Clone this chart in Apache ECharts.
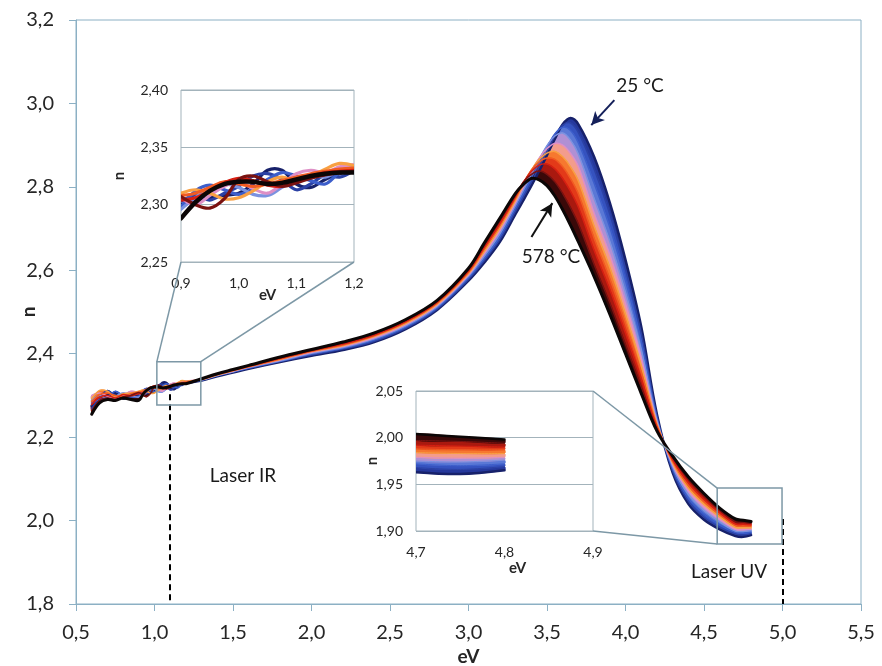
<!DOCTYPE html>
<html><head><meta charset="utf-8">
<script src="https://cdn.jsdelivr.net/npm/echarts@6/dist/echarts.min.js"></script>
<style>html,body{margin:0;padding:0;background:#fff}#c{width:882px;height:666px}</style>
</head><body><div id="c"></div>
<script>
// photon energy (eV)
const eV = [0.6,0.65,0.7,0.75,0.8,0.85,0.9,0.925,0.95,0.975,1.0,1.025,1.05,1.075,1.1,1.125,1.15,1.175,1.2,
  1.3,1.4,1.5,1.6,1.8,2.0,2.2,2.4,2.6,2.8,3.0,3.1,3.2,
  3.3,3.35,3.4,3.45,3.5,3.55,3.6,3.65,3.7,
  3.8,3.9,4.0,4.1,4.2,4.3,4.4,4.5,4.6,4.7,4.75,4.8];
// refractive index n, from 25 °C (navy) to 578 °C (black)
const n25C = [2.275,2.285,2.300,2.305,2.292,2.298,2.300,2.304,2.306,2.308,2.310,2.318,2.330,2.330,2.318,2.315,2.322,2.327,2.329,
  2.336,2.346,2.355,2.364,2.380,2.395,2.409,2.428,2.459,2.505,2.575,2.618,2.668,
  2.735,2.768,2.802,2.838,2.876,2.915,2.950,2.965,2.950,
  2.872,2.762,2.625,2.465,2.255,2.115,2.040,2.002,1.979,1.963,1.961,1.965];
const nBlue1 = [2.268,2.295,2.312,2.300,2.296,2.302,2.303,2.308,2.304,2.310,2.316,2.325,2.327,2.322,2.313,2.318,2.326,2.324,2.330,
  2.336,2.347,2.356,2.365,2.381,2.397,2.411,2.430,2.461,2.507,2.578,2.623,2.674,
  2.742,2.776,2.811,2.848,2.886,2.922,2.948,2.953,2.930,
  2.843,2.735,2.602,2.449,2.251,2.119,2.047,2.008,1.984,1.968,1.966,1.969];
const nBlue2 = [2.282,2.290,2.296,2.310,2.300,2.296,2.298,2.312,2.317,2.313,2.309,2.314,2.322,2.328,2.325,2.321,2.318,2.328,2.332,
  2.337,2.347,2.357,2.366,2.382,2.399,2.413,2.433,2.464,2.510,2.582,2.628,2.681,
  2.750,2.785,2.821,2.858,2.895,2.927,2.943,2.935,2.905,
  2.809,2.703,2.575,2.430,2.246,2.124,2.054,2.016,1.990,1.972,1.970,1.972];
const nLightBlue = [2.290,2.300,2.292,2.298,2.306,2.300,2.296,2.306,2.314,2.318,2.315,2.309,2.308,2.315,2.322,2.326,2.324,2.330,2.333,
  2.337,2.348,2.357,2.367,2.383,2.401,2.415,2.436,2.467,2.513,2.586,2.634,2.688,
  2.757,2.793,2.830,2.866,2.899,2.922,2.929,2.912,2.878,
  2.772,2.669,2.546,2.409,2.241,2.129,2.063,2.024,1.997,1.975,1.974,1.976];
const nPink = [2.300,2.306,2.298,2.292,2.300,2.310,2.306,2.300,2.308,2.316,2.320,2.314,2.310,2.318,2.327,2.330,2.328,2.333,2.335,
  2.338,2.349,2.358,2.368,2.385,2.403,2.417,2.438,2.470,2.516,2.589,2.640,2.695,
  2.763,2.800,2.837,2.869,2.892,2.904,2.900,2.880,2.848,
  2.737,2.637,2.519,2.390,2.236,2.134,2.071,2.032,2.003,1.979,1.978,1.979];
const nOrange = [2.292,2.312,2.310,2.296,2.304,2.306,2.310,2.313,2.310,2.305,2.306,2.312,2.320,2.324,2.320,2.325,2.331,2.336,2.334,
  2.338,2.349,2.359,2.369,2.386,2.405,2.419,2.441,2.472,2.518,2.592,2.645,2.701,
  2.768,2.805,2.840,2.866,2.881,2.885,2.872,2.848,2.814,
  2.706,2.607,2.494,2.372,2.232,2.138,2.078,2.039,2.009,1.984,1.983,1.983];
const nOrangeRed = [2.285,2.302,2.305,2.300,2.298,2.304,2.308,2.310,2.315,2.320,2.318,2.316,2.318,2.321,2.324,2.327,2.329,2.331,2.332,
  2.339,2.350,2.360,2.369,2.387,2.406,2.421,2.443,2.475,2.521,2.595,2.650,2.707,
  2.773,2.809,2.840,2.860,2.869,2.866,2.848,2.820,2.783,
  2.677,2.580,2.472,2.356,2.228,2.142,2.084,2.045,2.014,1.988,1.987,1.987];
const nRed = [2.278,2.296,2.300,2.294,2.302,2.299,2.304,2.306,2.312,2.319,2.323,2.321,2.317,2.316,2.321,2.325,2.328,2.329,2.330,
  2.339,2.351,2.361,2.370,2.389,2.407,2.423,2.445,2.477,2.523,2.598,2.655,2.712,
  2.777,2.811,2.837,2.852,2.855,2.843,2.820,2.789,2.751,
  2.648,2.554,2.449,2.340,2.224,2.146,2.091,2.051,2.019,1.992,1.991,1.990];
const nDarkRed = [2.262,2.288,2.294,2.290,2.296,2.300,2.307,2.300,2.297,2.305,2.322,2.325,2.320,2.316,2.319,2.323,2.326,2.328,2.329,
  2.340,2.351,2.361,2.371,2.390,2.409,2.426,2.448,2.480,2.526,2.602,2.660,2.719,
  2.781,2.812,2.830,2.838,2.830,2.812,2.784,2.750,2.711,
  2.614,2.522,2.422,2.321,2.219,2.151,2.099,2.059,2.025,1.997,1.996,1.994];
const n578C = [2.255,2.282,2.290,2.288,2.294,2.290,2.288,2.302,2.312,2.318,2.320,2.320,2.318,2.319,2.322,2.325,2.327,2.328,2.328,
  2.340,2.352,2.362,2.372,2.392,2.410,2.428,2.450,2.482,2.528,2.605,2.665,2.725,
  2.785,2.806,2.820,2.817,2.803,2.778,2.745,2.708,2.668,
  2.585,2.495,2.400,2.305,2.215,2.155,2.105,2.065,2.030,2.004,2.001,1.998];

const curves = [n25C, nBlue1, nBlue2, nLightBlue, nPink, nOrange, nOrangeRed, nRed, nDarkRed, n578C];
const lineColors = ['#17216a','#2b41a4','#3c5ecb','#7b92e0','#de8fc6','#f8a043','#f15b22','#d61f12','#7a1210','#0b0606'];
const bandColors = ['#25389c','#3552bf','#5a78d6','#b090d4','#f39c8c','#f6782f','#e33a19','#a9190f','#3a0909'];

// annotation boxes (data coords) and labels
const irBox = [1.015, 1.295, 2.277, 2.381];
const uvBox = [4.584, 4.997, 1.944, 2.078];
const laserLines = [[1.1, 2.303], [5.0, 2.004]];
const arrow25 = [[3.929, 3.008], [3.782, 2.948]];
const arrow578 = [[3.401, 2.680], [3.534, 2.761]];

const FONT = 'Lato, "Open Sans", sans-serif';
const TXT = '#262626';
const AX = '#8cb0c4';
const IN = '#a3b3bb';
const SMOOTH = 0.35;
const fmt = d => v => v.toFixed(d).replace('.', ',');

function idxIn(a, b) { const r = []; eV.forEach((x, i) => { if (x >= a - 1e-9 && x <= b + 1e-9) r.push(i); }); return r; }
const allIdx = eV.map((_, i) => i);
const in1Idx = idxIn(0.9, 1.2);
const in2Idx = idxIn(4.7, 4.8);

function bandSeries(gi, idx) {
  return {
    type: 'custom', xAxisIndex: gi, yAxisIndex: gi, clip: true, silent: true, z: 2, animation: false,
    data: bandColors.map((_, b) => [eV[idx[0]], curves[b][idx[0]], b]),
    renderItem: function (params, api) {
      const b = api.value(2);
      const top = idx.map(i => api.coord([eV[i], curves[b][i]]));
      const bot = idx.map(i => api.coord([eV[i], curves[b + 1][i]])).reverse();
      return { type: 'polygon', shape: { points: top.concat(bot), smooth: SMOOTH },
        style: { fill: bandColors[b], stroke: bandColors[b], lineWidth: 0.6 } };
    }
  };
}
function lineSeries(gi, idx, widthFn) {
  return {
    type: 'custom', xAxisIndex: gi, yAxisIndex: gi, clip: true, silent: true, z: 3, animation: false,
    data: curves.map((c, k) => [eV[idx[0]], c[idx[0]], k]),
    renderItem: function (params, api) {
      const k = api.value(2);
      const pts = idx.map(i => api.coord([eV[i], curves[k][i]]));
      return { type: 'polyline', shape: { points: pts, smooth: SMOOTH },
        style: { stroke: lineColors[k], lineWidth: widthFn(k), fill: null, lineJoin: 'round', lineCap: 'round' } };
    }
  };
}

const series = [];
series.push(bandSeries(0, allIdx));
series.push(lineSeries(0, allIdx, k => (k === 0 ? 2.5 : k === 9 ? 3 : 1.5)));
series.push(lineSeries(1, in1Idx, k => (k === 9 ? 4.5 : 3.2)));
series.push(bandSeries(2, in2Idx));
series.push(lineSeries(2, in2Idx, k => (k === 0 || k === 9 ? 2.5 : 1)));
// annotations on the main grid
series.push({
  type: 'line', xAxisIndex: 0, yAxisIndex: 0, data: [], silent: true, animation: false, z: 5,
  markLine: {
    silent: true, animation: false, label: { show: false }, symbol: ['none', 'none'],
    data: [
      [{ coord: laserLines[0], lineStyle: { type: [6, 4], color: '#000', width: 2 } }, { coord: [laserLines[0][0], 1.8] }],
      [{ coord: laserLines[1], lineStyle: { type: [6, 4], color: '#000', width: 2 } }, { coord: [laserLines[1][0], 1.8] }],
      [{ coord: arrow25[0], symbol: 'none', lineStyle: { type: 'solid', color: '#15205a', width: 2 } }, { coord: arrow25[1], symbol: 'arrow', symbolSize: [10, 13] }],
      [{ coord: arrow578[0], symbol: 'none', lineStyle: { type: 'solid', color: '#111', width: 2 } }, { coord: arrow578[1], symbol: 'arrow', symbolSize: [10, 13] }]
    ]
  }
});

function insetX(gi, min, max, gap) {
  return { gridIndex: gi, type: 'value', min, max, interval: 0.1,
    axisLine: { show: false }, axisTick: { show: false }, splitLine: { show: false },
    axisLabel: { formatter: fmt(1), fontSize: 14, color: TXT, margin: 14, fontFamily: FONT },
    name: 'eV', nameLocation: 'middle', nameGap: gap, nameMoveOverlap: false,
    nameTextStyle: { fontSize: 15, fontWeight: 'bold', color: TXT, fontFamily: FONT } };
}
function insetY(gi, min, max, gap) {
  return { gridIndex: gi, type: 'value', min, max, interval: 0.05,
    axisLine: { show: false }, axisTick: { show: false },
    splitLine: { show: true, lineStyle: { color: IN, width: 1 } },
    axisLabel: { formatter: fmt(2), fontSize: 14, color: TXT, margin: 13, fontFamily: FONT },
    name: 'n', nameLocation: 'middle', nameGap: gap, nameMoveOverlap: false,
    nameTextStyle: { fontSize: 15, fontWeight: 'bold', color: TXT, fontFamily: FONT } };
}

const option = {
  backgroundColor: '#fff',
  animation: false,
  grid: [
    { left: 76, top: 20, width: 785, height: 584, show: true, borderColor: AX, borderWidth: 1, containLabel: false, outerBoundsMode: 'none' },
    { left: 181, top: 90, width: 173, height: 172, show: true, borderColor: IN, borderWidth: 1, backgroundColor: '#fff', containLabel: false, outerBoundsMode: 'none' },
    { left: 416, top: 391, width: 177, height: 140, show: true, borderColor: IN, borderWidth: 1, backgroundColor: '#fff', containLabel: false, outerBoundsMode: 'none' }
  ],
  xAxis: [
    { gridIndex: 0, type: 'value', min: 0.5, max: 5.5, interval: 0.5,
      axisLine: { show: true, lineStyle: { color: AX, width: 1 } },
      axisTick: { show: true, length: 7, lineStyle: { color: AX } },
      splitLine: { show: false },
      axisLabel: { formatter: fmt(1), fontSize: 20, color: TXT, margin: 19, fontFamily: FONT },
      name: 'eV', nameLocation: 'middle', nameGap: 43, nameMoveOverlap: false,
      nameTextStyle: { fontSize: 19, fontWeight: 'bold', color: TXT, fontFamily: FONT } },
    insetX(1, 0.9, 1.2, 26),
    Object.assign(insetX(2, 4.7, 4.9, 30), { nameTextStyle: { fontSize: 15, fontWeight: 'bold', color: TXT, fontFamily: FONT, padding: [0, 0, 0, 26] } })
  ],
  yAxis: [
    { gridIndex: 0, type: 'value', min: 1.8, max: 3.2, interval: 0.2,
      axisLine: { show: true, lineStyle: { color: AX, width: 1 } },
      axisTick: { show: true, length: 7, lineStyle: { color: AX } },
      splitLine: { show: false },
      axisLabel: { formatter: fmt(1), fontSize: 20, color: TXT, margin: 22, fontFamily: FONT },
      name: 'n', nameLocation: 'middle', nameGap: 38, nameMoveOverlap: false,
      nameTextStyle: { fontSize: 19, fontWeight: 'bold', color: TXT, fontFamily: FONT } },
    insetY(1, 2.25, 2.40, 54),
    insetY(2, 1.90, 2.05, 36)
  ],
  series
};

const chart = echarts.init(document.getElementById('c'), null, { renderer: 'canvas' });
chart.setOption(option);

const p0 = v => chart.convertToPixel({ xAxisIndex: 0, yAxisIndex: 0 }, v);
const p1 = v => chart.convertToPixel({ xAxisIndex: 1, yAxisIndex: 1 }, v);
const p2 = v => chart.convertToPixel({ xAxisIndex: 2, yAxisIndex: 2 }, v);
const LS = { stroke: '#7d98a6', lineWidth: 1.5, fill: null };
function rectOf(b) { const a = p0([b[0], b[3]]), c = p0([b[1], b[2]]); return { x: a[0], y: a[1], width: c[0] - a[0], height: c[1] - a[1] }; }
const irTL = p0([irBox[0], irBox[3]]), irTR = p0([irBox[1], irBox[3]]);
const uvTL = p0([uvBox[0], uvBox[3]]), uvBL = p0([uvBox[0], uvBox[2]]);
const i1BL = p1([0.9, 2.25]), i1BR = p1([1.2, 2.25]);
const i2TR = p2([4.9, 2.05]), i2BR = p2([4.9, 1.90]);
const T = (x, y, s) => ({ type: 'text', x, y, z: 100, silent: true,
  style: { text: s, font: '19px ' + FONT, fill: '#1a1a1a', align: 'center', verticalAlign: 'middle', textAlign: 'center', textVerticalAlign: 'middle' } });
chart.setOption({
  graphic: [
    { type: 'rect', shape: rectOf(irBox), style: LS, z: 50, silent: true },
    { type: 'rect', shape: rectOf(uvBox), style: LS, z: 50, silent: true },
    { type: 'line', shape: { x1: irTL[0], y1: irTL[1], x2: i1BL[0], y2: i1BL[1] }, style: LS, z: 50, silent: true },
    { type: 'line', shape: { x1: irTR[0], y1: irTR[1], x2: i1BR[0], y2: i1BR[1] }, style: LS, z: 50, silent: true },
    { type: 'line', shape: { x1: i2TR[0], y1: i2TR[1], x2: uvTL[0], y2: uvTL[1] }, style: LS, z: 50, silent: true },
    { type: 'line', shape: { x1: i2BR[0], y1: i2BR[1], x2: uvBL[0], y2: uvBL[1] }, style: LS, z: 50, silent: true },
    T(640, 86, '25 °C'),
    T(551, 257, '578 °C'),
    T(243, 476, 'Laser IR'),
    T(729, 572, 'Laser UV')
  ]
});
</script></body></html>
